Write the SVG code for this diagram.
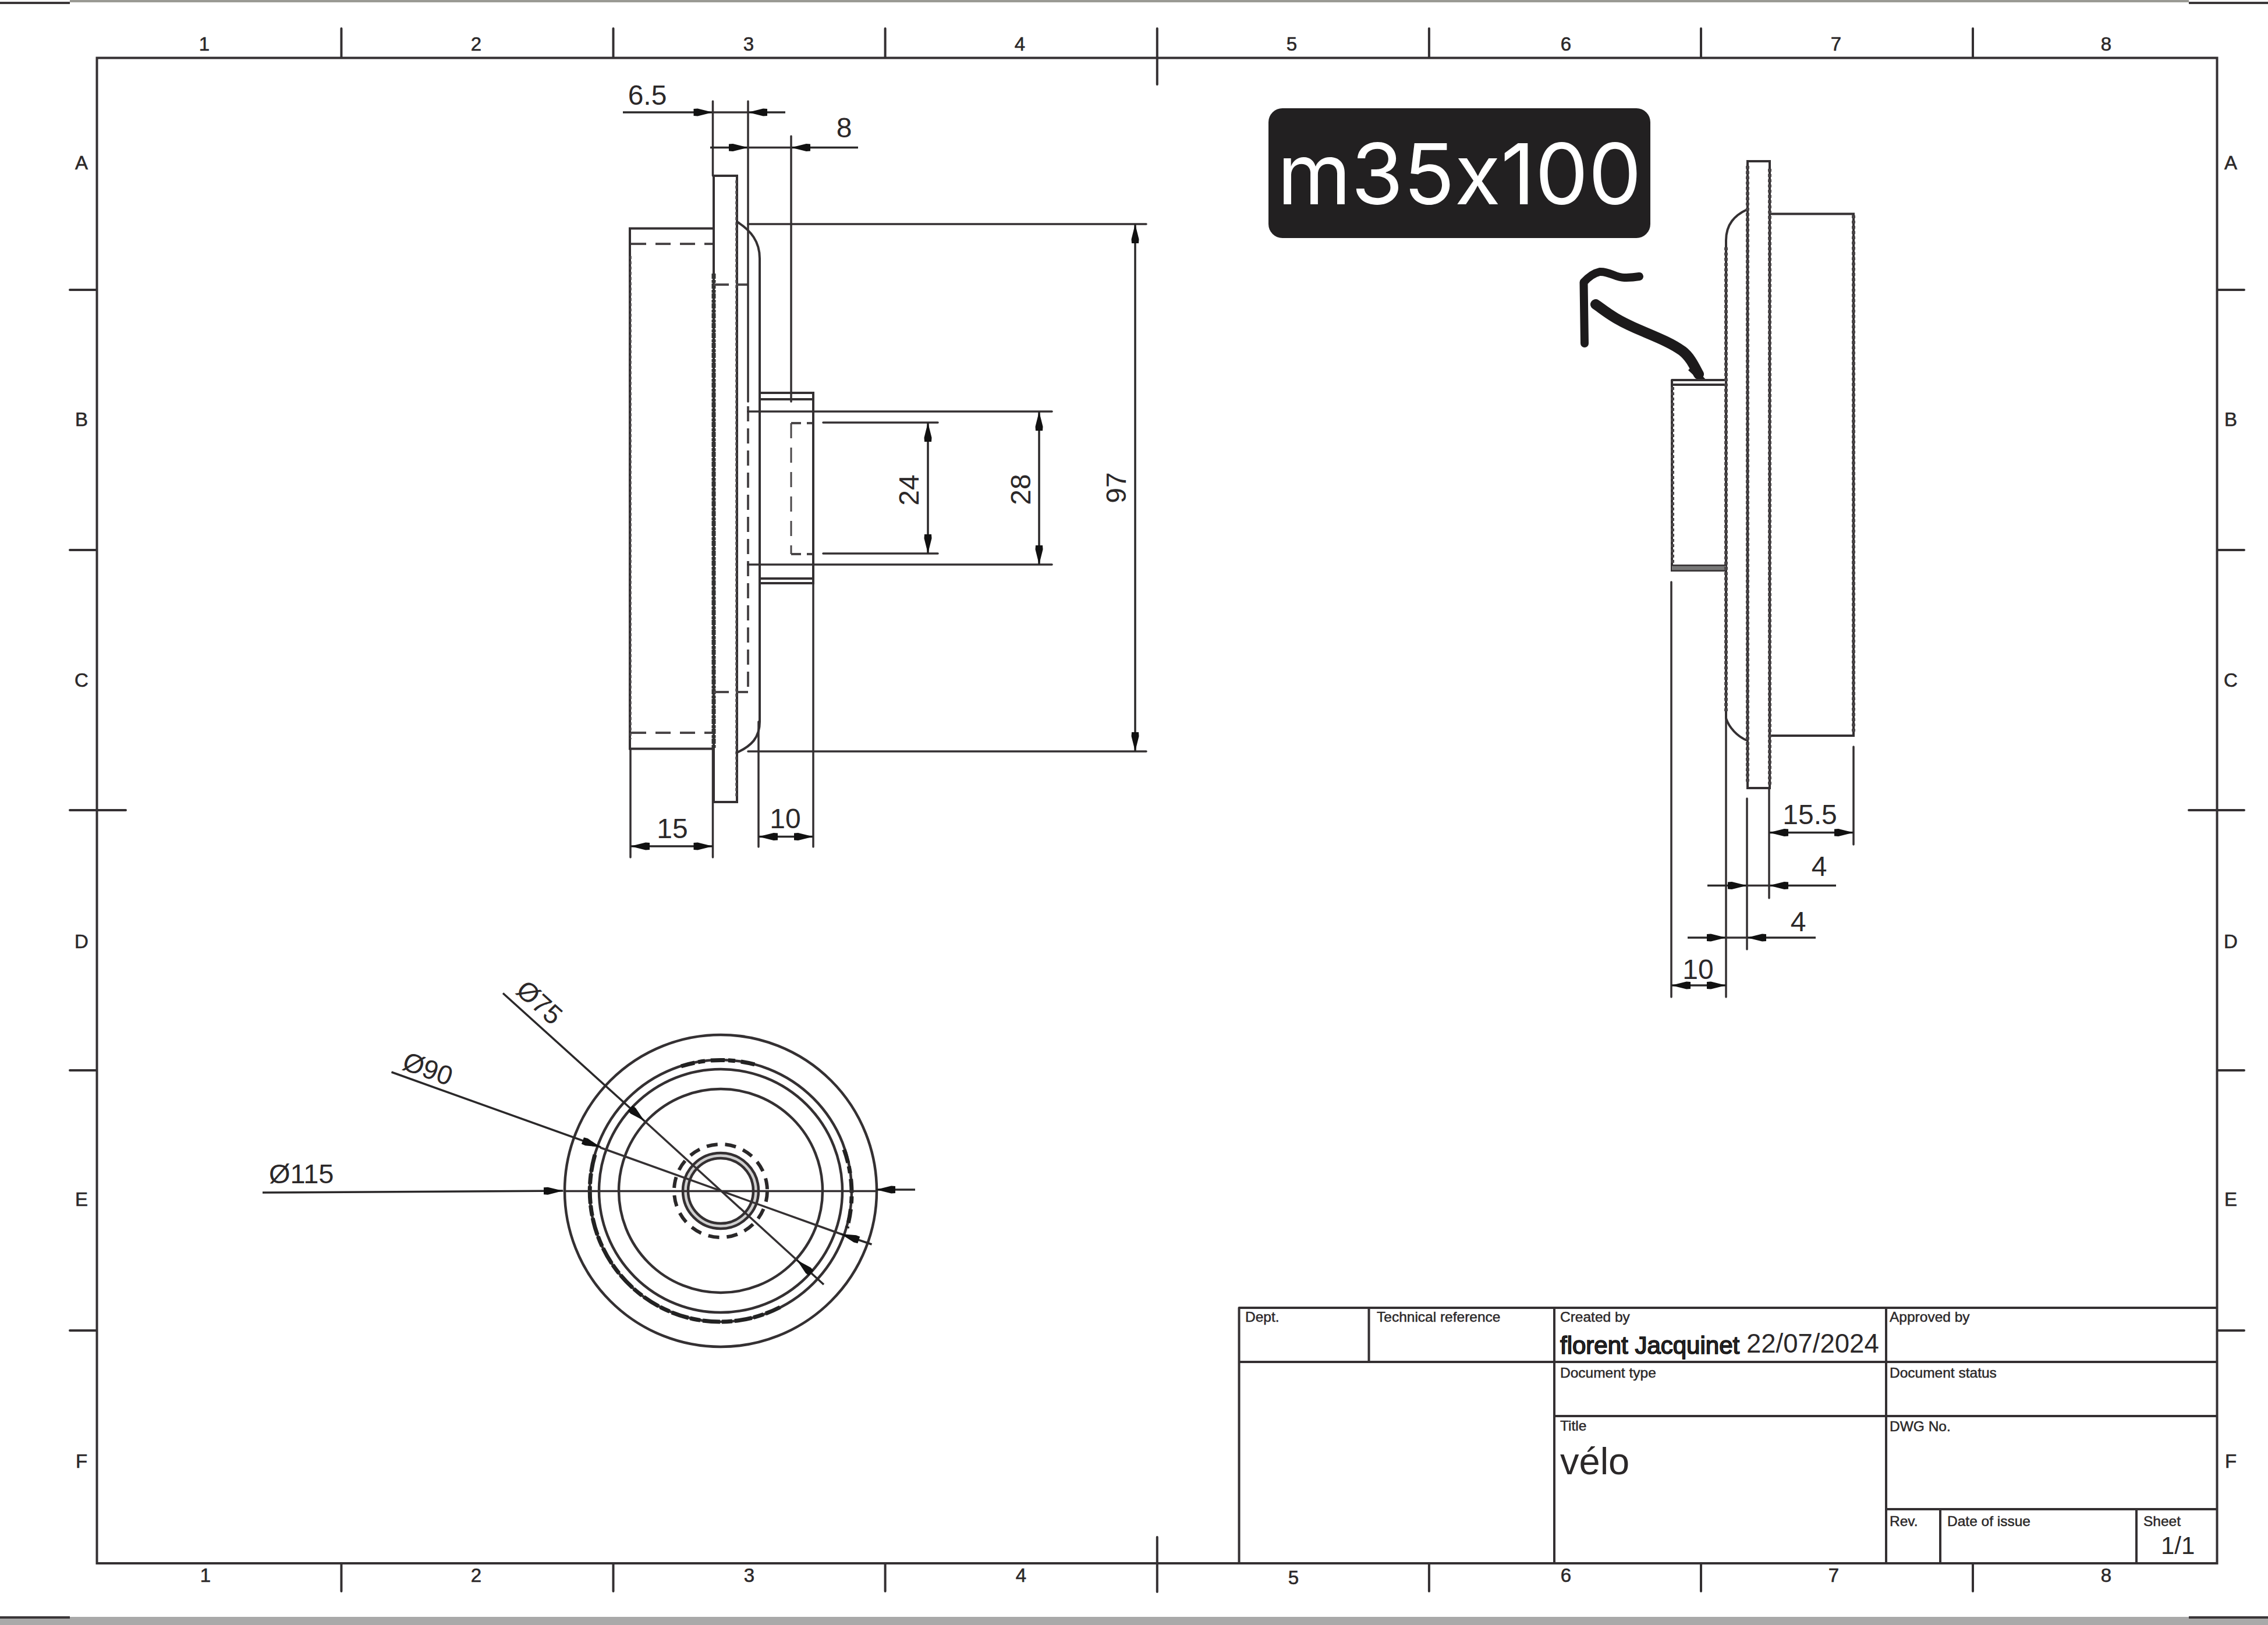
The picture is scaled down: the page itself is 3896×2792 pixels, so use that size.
<svg xmlns="http://www.w3.org/2000/svg" width="3896" height="2792" viewBox="0 0 3896 2792">
<style>
.l{fill:none;stroke:#343032;stroke-width:4;stroke-linecap:round}
.d{fill:none;stroke:#343032;stroke-width:3.500;stroke-linecap:round}
.a{fill:none;stroke:#2a2829;stroke-width:3.500;marker-end:url(#arr)}
.dash{fill:none;stroke:#4a4648;stroke-width:4;stroke-dasharray:26 16}
.bead{fill:none;stroke:#4a4648;stroke-width:6;stroke-dasharray:5 4}
.rough{fill:none;stroke:#333;stroke-width:7;stroke-dasharray:9 2 5 1}
.c{fill:none;stroke:#343032;stroke-width:4.500}
text{font-family:"Liberation Sans",Arial,sans-serif;fill:#2b2829}
.m{font-size:33px;text-anchor:middle;stroke:#2b2829;stroke-width:.6}
.s{font-size:24.5px;stroke:#2b2829;stroke-width:.5}
.n{font-size:48px;text-anchor:middle}
</style>
<defs>
<marker id="arr" markerUnits="userSpaceOnUse" markerWidth="36" markerHeight="16" refX="34" refY="8" orient="auto">
<path d="M1 2 L8 1.5 L34 8 L8 14.500 L1 14 Z" fill="#111"/>
</marker>
</defs>
<rect width="3896" height="2792" fill="#fff"/>
<g id="sheet-edges">
<rect x="0" y="2778" width="3896" height="14" fill="#a9a9a9"/>
<path d="M120 2 H3760" stroke="#9a9a94" stroke-width="4" fill="none"/>
<path d="M0 5 H120 M3760 5 H3896 M0 2779 H120 M3760 2779 H3896" stroke="#3a3638" stroke-width="4" fill="none"/>
</g>
<g id="frame">
<rect class="l" x="166.500" y="99.500" width="3642" height="2586.500"/>
<path class="l" d="M586.400 49V99 M1053.500 49V99 M1520.600 49V99 M1987.800 49V145 M2454.900 49V99 M2922 49V99 M3389 49V99"/>
<path class="l" d="M586.400 2686V2734 M1053.500 2686V2734 M1520.600 2686V2734 M1987.800 2641V2735 M2454.900 2686V2734 M2922 2686V2734 M3389 2686V2734"/>
<path class="l" d="M120 498H166 M120 945H166 M120 1392H216 M120 1839H166 M120 2286H166"/>
<path class="l" d="M3809 498H3855 M3809 945H3855 M3760 1392H3855 M3809 1839H3855 M3809 2286H3855"/>
<text class="m" x="351" y="87">1</text><text class="m" x="818" y="87">2</text><text class="m" x="1286" y="87">3</text><text class="m" x="1752" y="87">4</text><text class="m" x="2219" y="87">5</text><text class="m" x="2690" y="87">6</text><text class="m" x="3154" y="87">7</text><text class="m" x="3618" y="87">8</text>
<text class="m" x="353" y="2718">1</text><text class="m" x="818" y="2718">2</text><text class="m" x="1287" y="2718">3</text><text class="m" x="1754" y="2718">4</text><text class="m" x="2222" y="2722">5</text><text class="m" x="2690" y="2718">6</text><text class="m" x="3150" y="2718">7</text><text class="m" x="3618" y="2718">8</text>
<text class="m" x="140" y="291">A</text><text class="m" x="140" y="732">B</text><text class="m" x="140" y="1180">C</text><text class="m" x="140" y="1629">D</text><text class="m" x="140" y="2072">E</text><text class="m" x="140" y="2522">F</text>
<text class="m" x="3832" y="291">A</text><text class="m" x="3832" y="732">B</text><text class="m" x="3832" y="1180">C</text><text class="m" x="3832" y="1629">D</text><text class="m" x="3832" y="2072">E</text><text class="m" x="3832" y="2522">F</text>
</g>
<g id="title-block">
<path class="l" d="M2128.500 2247H3808 M2128.500 2340H3808 M2670 2433H3808 M3240 2593H3808 M2128.500 2247V2686 M2351.500 2247V2340 M2670 2247V2686 M3240 2247V2686 M3333 2593V2686 M3670 2593V2686"/>
<text class="s" x="2139" y="2271">Dept.</text>
<text class="s" x="2365" y="2271">Technical reference</text>
<text class="s" x="2680" y="2271">Created by</text>
<text x="2680" y="2326" font-size="42" stroke="#111" stroke-width="1.600">florent Jacquinet</text>
<text x="3000" y="2324" font-size="45.500">22/07/2024</text>
<text class="s" x="3246" y="2271">Approved by</text>
<text class="s" x="2680" y="2367">Document type</text>
<text class="s" x="3246" y="2367">Document status</text>
<text class="s" x="2680" y="2458">Title</text>
<text x="2680" y="2533" font-size="65">vélo</text>
<text class="s" x="3246" y="2459">DWG No.</text>
<text class="s" x="3246" y="2622">Rev.</text>
<text class="s" x="3345" y="2622">Date of issue</text>
<text class="s" x="3682" y="2622">Sheet</text>
<text x="3712" y="2670" font-size="42">1/1</text>
</g>
<g id="front-view">
<path class="l" d="M1224 392.500H1082V1286.500H1224"/>
<path class="dash" d="M1084 419H1224 M1084 1259H1224"/>
<path class="l" d="M1226 302H1266V1378H1226Z"/>
<path class="rough" d="M1226 470V1285"/>
<path class="bead" d="M1265 310V1370 M1083 440V1270" style="stroke-width:3.500"/>
<path class="l" d="M1266 381C1290 396 1305 415 1305 444V1240C1305 1268 1290 1282 1266 1293"/>
<path class="dash" d="M1226 489H1285 M1226 1189H1285 M1285 698V1188" style="stroke-dasharray:26 12"/>
<path class="l" d="M1305 675H1397V1002H1305 M1305 686H1397 M1305 994H1397"/>
<path class="dash" d="M1359 727V952" style="stroke-width:3;stroke-dasharray:26 16"/>
<path class="dash" d="M1359 727H1376 M1386 727H1395 M1359 952H1376 M1386 952H1395" style="stroke-dasharray:none"/>
</g>
<g id="front-dimensions">
<path class="d" d="M1224.500 174V302 M1285 174V690 M1359 234V690 M1303 1240V1455 M1397 1002V1455 M1083 1287V1473 M1224.500 1287V1473"/>
<path class="d" d="M1285 385H1969 M1285 1291H1969 M1285 707H1807 M1285 970H1807 M1414 726H1611 M1414 951H1611"/>
<path class="a" d="M1070 193H1224.500"/><path class="a" d="M1349 193H1285"/><path class="d" d="M1224.500 193H1285"/>
<path class="a" d="M1220 253.500H1285"/><path class="a" d="M1474 253.500H1359"/><path class="d" d="M1285 253.500H1359"/>
<path class="a" d="M1950 838V385"/><path class="a" d="M1950 838V1291"/>
<path class="a" d="M1785 838V707"/><path class="a" d="M1785 838V970"/>
<path class="a" d="M1594 838V726"/><path class="a" d="M1594 838V951"/>
<path class="a" d="M1155 1454H1083"/><path class="a" d="M1155 1454H1224.500"/>
<path class="a" d="M1350 1437.500H1303"/><path class="a" d="M1350 1437.500H1397"/>
<text class="n" x="1112" y="180">6.5</text>
<text class="n" x="1450" y="236">8</text>
<text class="n" x="1155" y="1440">15</text>
<text class="n" x="1349" y="1423">10</text>
<text class="n" transform="translate(1578 842) rotate(-90)">24</text>
<text class="n" transform="translate(1770 841) rotate(-90)">28</text>
<text class="n" transform="translate(1934 838) rotate(-90)">97</text>
</g>
<g id="label">
<rect x="2179" y="186" width="656" height="223" rx="24" fill="#222021"/>
<text x="2507" y="351" font-size="145" text-anchor="middle" style="fill:#fff;font-family:Inter,'Liberation Sans',sans-serif;font-feature-settings:'calt' 0;font-variant-ligatures:none">m35x100</text>
<path d="M2722 590L2720.500 485Q2734 470 2748 467C2765 466 2775 477 2790 477Q2803 477 2816 475" fill="none" stroke="#1c1a1b" stroke-width="14" stroke-linecap="round" stroke-linejoin="round"/>
<path d="M2741 523C2755 532 2770 548 2824 570C2850 581 2872 590 2890 603C2903 613 2910 628 2918 643" fill="none" stroke="#1c1a1b" stroke-width="18" stroke-linecap="round"/>
<path d="M2908 628L2931 653L2918 653L2900 636Z" fill="#1c1a1b"/>
</g>
<g id="side-view">
<path class="l" d="M3002 277H3040V1354H3002Z"/>
<path class="l" d="M3040 367.500H3184V1264H3040"/>
<path class="l" d="M3001 360C2980 370 2965 385 2965 413V1234C2970 1250 2985 1266 3001 1272"/>
<path class="l" d="M2872 653H2965 M2872 661H2965 M2872 653V980H2965 M2872 972H2965"/>
<path d="M2872 976H2965" stroke="#777" stroke-width="7"/>
<path class="bead" d="M3002 285V1345 M3040 290V1350 M2965 425V1225 M3184 370V1260 M2873 665V970"/>
</g>
<g id="side-dimensions">
<path class="d" d="M2871 1000V1713 M2965 1234V1713 M3001 1372V1631 M3039 1354V1543 M3184 1283V1451"/>
<path class="a" d="M3110 1430.600H3039"/><path class="a" d="M3110 1430.600H3184"/>
<path class="a" d="M2933 1521.500H3001"/><path class="a" d="M3154 1521.500H3039"/><path class="d" d="M3001 1521.500H3039"/>
<path class="a" d="M2899 1611H2965"/><path class="a" d="M3119 1611H3001"/><path class="d" d="M2965 1611H3001"/>
<path class="a" d="M2918 1693H2871"/><path class="a" d="M2918 1693H2965"/>
<text class="n" x="3109" y="1416">15.5</text>
<text class="n" x="3125" y="1505">4</text>
<text class="n" x="3089" y="1600">4</text>
<text class="n" x="2917" y="1682">10</text>
</g>
<g id="circular-view">
<circle cx="1238" cy="2046" r="60.500" fill="none" stroke="#cfcfcf" stroke-width="9"/>
<circle class="c" cx="1238" cy="2046" r="268"/>
<circle class="c" cx="1238" cy="2046" r="225"/>
<path d="M1022 1984A225 225 0 0 0 1190 2266A225 225 0 0 0 1340 2246" fill="none" stroke="#222" stroke-width="7" stroke-dasharray="30 3 18 4"/>
<path d="M1170 1832A225 225 0 0 1 1300 1830 M1450 1975A225 225 0 0 1 1455 2110" fill="none" stroke="#222" stroke-width="7" stroke-dasharray="24 6 12 10"/>
<circle class="c" cx="1238" cy="2046" r="209"/>
<circle class="c" cx="1238" cy="2046" r="175"/>
<circle cx="1238" cy="2046" r="80" fill="none" stroke="#2a2829" stroke-width="6" stroke-dasharray="19 13"/>
<circle class="c" cx="1238" cy="2046" r="65"/>
<circle class="c" cx="1238" cy="2046" r="56"/>
</g>
<g id="circular-dimensions">
<path class="d" d="M969 2046.500H1505"/>
<path class="a" d="M451 2049L967 2046"/><path class="a" d="M1572 2044H1505"/>
<path class="d" d="M1032 1972L1444 2120"/>
<path class="a" d="M672.500 1842L1032 1971"/><path class="a" d="M1497.500 2138L1444 2120"/>
<path class="d" d="M1107 1926L1369 2165"/>
<path class="a" d="M864 1706.500L1107 1926"/><path class="a" d="M1415 2207L1369 2165"/>
<text font-size="47" x="462" y="2033">Ø115</text>
<text font-size="46" text-anchor="middle" transform="translate(735 1836) rotate(19.700)" dy=".35em">Ø90</text>
<text font-size="46" text-anchor="middle" transform="translate(927 1722) rotate(42)" dy=".35em">Ø75</text>
</g>
</svg>
